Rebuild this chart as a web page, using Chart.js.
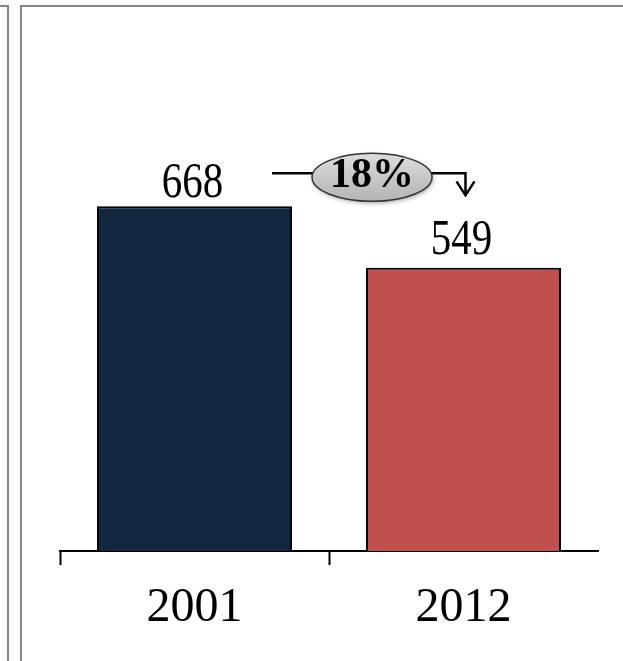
<!DOCTYPE html>
<html lang="en">
<head>
    <meta charset="UTF-8">
    <title>Totals 2001 vs 2012</title>
    <script src="https://cdn.jsdelivr.net/npm/chart.js@4.4.1/dist/chart.umd.min.js"></script>
    <style>
        html, body { margin: 0; padding: 0; background: #fff; }
        .wrap { position: relative; width: 623px; height: 661px; overflow: hidden; }
        .wrap canvas { position: absolute; left: 0; top: 0; }
        .edge { position: absolute; background: #868686; }
    </style>
</head>
<body>
    <div class="wrap">
        <canvas id="chart-totals" width="623" height="661"></canvas>
        <!-- panel outlines -->
        <div class="edge" style="left:0; top:5px; width:9px; height:2px;"></div>
        <div class="edge" style="left:7px; top:5px; width:2px; height:656px;"></div>
        <div class="edge" style="left:20px; top:5px; width:603px; height:2px;"></div>
        <div class="edge" style="left:20px; top:5px; width:2px; height:656px;"></div>
    </div>

    <script>
        const years = ['2001', '2012'];
        const totals = [668, 549];
        const barColors = ['#13263f', '#c0504d'];
        const yRange = [0, 1000];

        const serif = '"Liberation Serif", "Times New Roman", serif';

        // value labels above each bar (slightly tall type)
        const valueLabels = {
            id: 'valueLabels',
            afterDatasetsDraw(chart) {
                const ctx = chart.ctx;
                const meta = chart.getDatasetMeta(0);
                const gaps = [9, 14];
                ctx.save();
                ctx.fillStyle = '#000';
                ctx.font = '41px ' + serif;
                ctx.textAlign = 'center';
                ctx.textBaseline = 'alphabetic';
                meta.data.forEach((bar, i) => {
                    ctx.save();
                    ctx.translate(bar.x - 2, bar.y - gaps[i]);
                    ctx.scale(1, 1.22);
                    ctx.fillText(String(totals[i]), 0, 0);
                    ctx.restore();
                });
                ctx.restore();
            }
        };

        // change bubble with arrow from first bar to second
        const changeArrow = {
            id: 'changeArrow',
            afterDatasetsDraw(chart) {
                const ctx = chart.ctx;
                const meta = chart.getDatasetMeta(0);
                const a = meta.data[0], b = meta.data[1];
                const y = a.y - 33;
                const x0 = a.x + a.width / 2 - 20;
                const x1 = b.x + 2;
                const cx = x0 + 100, cy = y + 4;
                const pct = Math.round((totals[0] - totals[1]) / totals[0] * 100);

                ctx.save();
                ctx.strokeStyle = '#000';
                ctx.lineWidth = 2.5;
                ctx.beginPath();
                ctx.moveTo(x0, y);
                ctx.lineTo(x1, y);
                ctx.lineTo(x1, y + 21);
                ctx.stroke();
                ctx.beginPath();
                ctx.moveTo(x1 - 9, y + 8);
                ctx.lineTo(x1, y + 22);
                ctx.lineTo(x1 + 9, y + 8);
                ctx.stroke();

                ctx.shadowColor = 'rgba(0,0,0,0.35)';
                ctx.shadowBlur = 4;
                ctx.shadowOffsetX = 1;
                ctx.shadowOffsetY = 2;
                const g = ctx.createLinearGradient(0, cy - 24, 0, cy + 24);
                g.addColorStop(0, '#dcdcdc');
                g.addColorStop(1, '#b4b4b4');
                ctx.fillStyle = g;
                ctx.beginPath();
                ctx.ellipse(cx, cy, 60, 24, 0, 0, Math.PI * 2);
                ctx.fill();
                ctx.shadowColor = 'transparent';
                ctx.lineWidth = 1.5;
                ctx.strokeStyle = '#333';
                ctx.stroke();

                ctx.fillStyle = '#000';
                ctx.font = 'bold 42px ' + serif;
                ctx.textAlign = 'center';
                ctx.textBaseline = 'alphabetic';
                ctx.fillText(pct + '%', cx, cy + 10);
                ctx.restore();
            }
        };

        const ctx = document.getElementById('chart-totals').getContext('2d');
        new Chart(ctx, {
            type: 'bar',
            data: {
                labels: years,
                datasets: [{
                    data: totals,
                    backgroundColor: barColors,
                    borderColor: '#000',
                    borderWidth: 2,
                    categoryPercentage: 1,
                    barPercentage: 0.725
                }]
            },
            options: {
                responsive: false,
                animation: false,
                events: [],
                layout: { padding: { left: 60, right: 25, top: 35, bottom: 0 } },
                plugins: {
                    legend: { display: false },
                    tooltip: { enabled: false }
                },
                scales: {
                    x: {
                        offset: true,
                        afterFit: (s) => { s.height = 110; },
                        border: { display: true, color: '#000', width: 2 },
                        grid: {
                            offset: true,
                            drawOnChartArea: false,
                            tickLength: 14,
                            tickWidth: 2,
                            tickColor: (c) => c.index < 2 ? '#000' : 'rgba(0,0,0,0)'
                        },
                        ticks: {
                            color: '#000',
                            padding: 15,
                            font: { family: serif, size: 48 }
                        }
                    },
                    y: {
                        display: false,
                        min: yRange[0],
                        max: yRange[1]
                    }
                }
            },
            plugins: [valueLabels, changeArrow]
        });
    </script>
</body>
</html>
